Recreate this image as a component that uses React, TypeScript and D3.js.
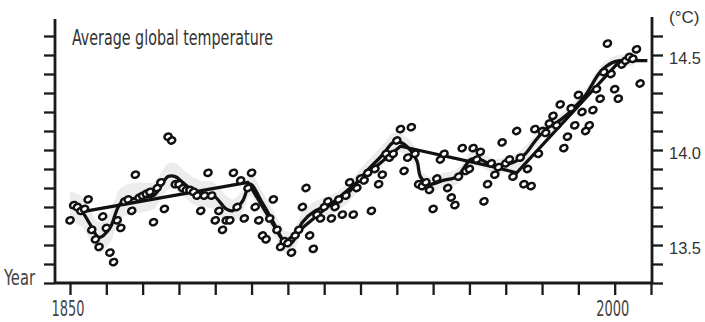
import React from "react";
import * as d3 from "d3";

// annual global temperature (°C), one value per year starting at firstYear
const firstYear = 1850;
const annualTemps = [
  13.63, 13.71, 13.7, 13.68, 13.69, 13.74, 13.58, 13.53, 13.49, 13.65, // 1850s
  13.59, 13.46, 13.41, 13.63, 13.59, 13.73, 13.74, 13.68, 13.87, 13.75, // 1860s
  13.76, 13.77, 13.78, 13.62, 13.8, 13.83, 13.69, 14.07, 14.05, 13.82, // 1870s
  13.82, 13.8, 13.79, 13.79, 13.78, 13.76, 13.68, 13.76, 13.88, 13.76, // 1880s
  13.63, 13.68, 13.58, 13.63, 13.63, 13.88, 13.7, 13.84, 13.64, 13.8, // 1890s
  13.88, 13.7, 13.63, 13.55, 13.53, 13.64, 13.74, 13.58, 13.49, 13.52, // 1900s
  13.51, 13.46, 13.55, 13.58, 13.7, 13.8, 13.55, 13.48, 13.66, 13.64, // 1910s
  13.7, 13.73, 13.64, 13.7, 13.74, 13.66, 13.76, 13.83, 13.66, 13.8, // 1920s
  13.85, 13.84, 13.88, 13.68, 13.9, 13.82, 13.87, 13.98, 13.96, 13.98, // 1930s
  14.05, 14.11, 13.89, 13.96, 14.12, 13.98, 13.82, 13.81, 13.83, 13.79, // 1940s
  13.69, 13.85, 13.95, 13.98, 13.8, 13.75, 13.71, 13.86, 14.01, 13.89, // 1950s
  13.9, 14.01, 13.95, 13.99, 13.73, 13.82, 13.93, 13.87, 13.91, 14.04, // 1960s
  13.93, 13.95, 13.86, 14.1, 13.96, 13.82, 13.9, 13.81, 14.11, 13.98, // 1970s
  14.1, 14.09, 14.14, 14.18, 14.13, 14.24, 14.01, 14.07, 14.22, 14.13, // 1980s
  14.29, 14.2, 14.1, 14.13, 14.21, 14.32, 14.27, 14.41, 14.56, 14.4, // 1990s
  14.32, 14.27, 14.45, 14.47, 14.49, 14.48, 14.53, 14.35, // 2000s
];

// decadal smoothed curve
const smoothYears = [
  1850, 1853, 1855.5, 1858, 1861, 1864, 1869, 1873, 1877, 1879, 1881, 1883.6,
  1886, 1889.5, 1893, 1894.7, 1897.5, 1899.6, 1903, 1906, 1909, 1911, 1914,
  1917.5, 1921.7, 1925.8, 1931.3, 1936.3, 1939, 1941, 1943.7, 1945.6, 1946.5,
  1948.7, 1952.8, 1956.6, 1959, 1960.3, 1963, 1967.2, 1969.4, 1972.7, 1975.4,
  1978.2, 1981, 1983.7, 1986.5, 1989.2, 1992, 1996, 1999.4, 2001.6, 2005,
];
const smoothTemps = [
  13.7, 13.68, 13.61, 13.54, 13.59, 13.72, 13.75, 13.76, 13.86, 13.86, 13.83,
  13.79, 13.77, 13.76, 13.69, 13.68, 13.73, 13.82, 13.72, 13.62, 13.52, 13.51,
  13.62, 13.68, 13.71, 13.76, 13.88, 13.98, 14.04, 14.04, 14.0, 13.94, 13.86,
  13.82, 13.84, 13.86, 13.92, 13.95, 13.95, 13.91, 13.92, 13.94, 13.98, 14.05,
  14.11, 14.14, 14.18, 14.23, 14.29, 14.41, 14.46, 14.47, 14.47,
];
// half width of the pale uncertainty band around the smooth curve
const bandHalf = [
  0.08, 0.08, 0.08, 0.08, 0.08, 0.08, 0.08, 0.07, 0.07, 0.07, 0.07, 0.07, 0.07,
  0.07, 0.07, 0.06, 0.06, 0.06, 0.06, 0.06, 0.06, 0.06, 0.05, 0.05, 0.05, 0.05,
  0.05, 0.05, 0.05, 0.05, 0.05, 0.05, 0.04, 0.04, 0.04, 0.04, 0.04, 0.04, 0.04,
  0.04, 0.04, 0.04, 0.04, 0.03, 0.03, 0.03, 0.03, 0.03, 0.03, 0.03, 0.03, 0.03,
  0.03,
];

// straight segment fits
const trendYears = [1852, 1899, 1909, 1941, 1967, 1973, 2001.5, 2009];
const trendTemps = [13.67, 13.83, 13.51, 14.02, 13.91, 13.88, 14.47, 14.47];

const yearTicks = [
  1850, 1860, 1870, 1880, 1890, 1900, 1910, 1920, 1930, 1940, 1950, 1960, 1970,
  1980, 1990, 2000, 2010,
];
const yearLabels = [1850, 2000];
const tempTicks = [
  13.3, 13.4, 13.5, 13.6, 13.7, 13.8, 13.9, 14.0, 14.1, 14.2, 14.3, 14.4, 14.5,
  14.6,
];
const tempLabels = [13.5, 14.0, 14.5];

const narrow =
  "'Liberation Sans Narrow', 'Arial Narrow', 'DejaVu Sans Condensed', sans-serif";

function drawChart(svg) {
  svg.selectAll("*").remove();

  const left = 55;
  const right = 652;

  const x = d3.scaleLinear().domain([1850, 2010]).range([70, 651]);
  const y = d3.scaleLinear().domain([13.3, 14.7]).range([283, 17]);
  const bottom = y(13.3);

  const annual = annualTemps.map((t, i) => ({ year: firstYear + i, temp: t }));
  const smooth = smoothYears.map((yr, i) => ({
    year: yr,
    temp: smoothTemps[i],
    half: bandHalf[i],
  }));
  const trend = trendYears.map((yr, i) => ({ year: yr, temp: trendTemps[i] }));

  // pale band
  const band = d3
    .area()
    .x((d) => x(d.year))
    .y0((d) => y(d.temp - d.half))
    .y1((d) => y(d.temp + d.half))
    .curve(d3.curveCatmullRom);
  svg.append("path").datum(smooth).attr("fill", "#ececec").attr("d", band);

  const smoothLine = d3
    .line()
    .x((d) => x(d.year))
    .y((d) => y(d.temp))
    .curve(d3.curveCatmullRom);
  svg
    .append("path")
    .datum(smooth)
    .attr("fill", "none")
    .attr("stroke", "#111")
    .attr("stroke-width", 3.3)
    .attr("stroke-linejoin", "round")
    .attr("d", smoothLine);

  const trendLine = d3
    .line()
    .x((d) => x(d.year))
    .y((d) => y(d.temp));
  svg
    .append("path")
    .datum(trend)
    .attr("fill", "none")
    .attr("stroke", "#111")
    .attr("stroke-width", 3.2)
    .attr("stroke-linejoin", "round")
    .attr("d", trendLine);

  // annual values
  svg
    .append("g")
    .selectAll("ellipse")
    .data(annual)
    .join("ellipse")
    .attr("transform", (d) => `translate(${x(d.year)},${y(d.temp)}) rotate(-25)`)
    .attr("rx", 3.7)
    .attr("ry", 3.0)
    .attr("fill", "#fff")
    .attr("stroke", "#111")
    .attr("stroke-width", 2.5);

  // axes
  const axisColor = "#1a1a1a";
  const styleAxis = (g) => {
    g.select(".domain").remove();
    g.selectAll(".tick line").attr("stroke", axisColor).attr("stroke-width", 2.3);
  };

  svg
    .append("g")
    .attr("transform", `translate(${left},0)`)
    .call(d3.axisLeft(y).tickValues(tempTicks).tickSize(11).tickFormat(() => ""))
    .call(styleAxis);

  svg
    .append("g")
    .attr("transform", `translate(${right},0)`)
    .call(d3.axisRight(y).tickValues(tempTicks).tickSize(11).tickFormat(() => ""))
    .call(styleAxis);

  svg
    .append("g")
    .attr("transform", `translate(0,${bottom})`)
    .call(d3.axisBottom(x).tickValues(yearTicks).tickSize(12).tickFormat(() => ""))
    .call(styleAxis);

  svg
    .append("line")
    .attr("x1", left)
    .attr("x2", left)
    .attr("y1", 19)
    .attr("y2", bottom)
    .attr("stroke", axisColor)
    .attr("stroke-width", 2.8);
  svg
    .append("line")
    .attr("x1", right)
    .attr("x2", right)
    .attr("y1", 17)
    .attr("y2", bottom)
    .attr("stroke", axisColor)
    .attr("stroke-width", 2.8);
  svg
    .append("line")
    .attr("x1", left)
    .attr("x2", right)
    .attr("y1", bottom)
    .attr("y2", bottom)
    .attr("stroke", axisColor)
    .attr("stroke-width", 2.8);

  // labels
  svg
    .append("g")
    .selectAll("text")
    .data(tempLabels)
    .join("text")
    .attr("x", right + 17)
    .attr("y", (d) => y(d) + 9)
    .attr("font-family", "'Liberation Sans', Arial, sans-serif")
    .attr("font-size", 17)
    .attr("fill", "#333")
    .attr("textLength", 32)
    .attr("lengthAdjust", "spacingAndGlyphs")
    .text((d) => d.toFixed(1));

  svg
    .append("text")
    .attr("x", right + 17)
    .attr("y", 23)
    .attr("font-family", "'Liberation Sans', Arial, sans-serif")
    .attr("font-size", 17)
    .attr("fill", "#333")
    .text("(°C)");

  svg
    .append("g")
    .selectAll("text")
    .data(yearLabels)
    .join("text")
    .attr("x", (d) => x(d) - 2)
    .attr("y", bottom + 33)
    .attr("text-anchor", "middle")
    .attr("font-family", narrow)
    .attr("font-size", 21)
    .attr("fill", "#444")
    .attr("textLength", 33)
    .attr("lengthAdjust", "spacingAndGlyphs")
    .text((d) => d);

  svg
    .append("text")
    .attr("x", 4)
    .attr("y", 285)
    .attr("font-family", narrow)
    .attr("font-size", 21)
    .attr("fill", "#444")
    .attr("textLength", 31)
    .attr("lengthAdjust", "spacingAndGlyphs")
    .text("Year");

  svg
    .append("text")
    .attr("x", 72)
    .attr("y", 45)
    .attr("font-family", narrow)
    .attr("font-size", 22)
    .attr("fill", "#333")
    .attr("textLength", 201)
    .attr("lengthAdjust", "spacingAndGlyphs")
    .text("Average global temperature");

  return svg.node();
}

function TempChart() {
  const ref = React.useRef(null);
  React.useEffect(() => {
    drawChart(d3.select(ref.current));
  }, []);

  return (
    <svg
      ref={ref}
      width={705}
      height={322}
      style={{ position: "absolute", left: 0, top: 0, background: "#fff" }}
    />
  );
}

export default function App() {
  return <TempChart />;
}
